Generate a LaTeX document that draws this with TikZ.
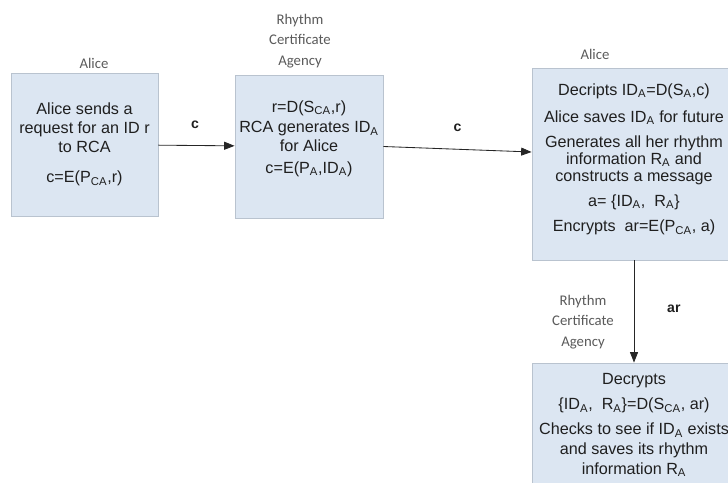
\documentclass[tikz,border=0pt]{standalone}
\usepackage{fontspec}
\setmainfont{Liberation Sans}
\newfontfamily\lblfont{Carlito}
\usetikzlibrary{arrows.meta,shadows}
\definecolor{boxfill}{HTML}{DCE6F2}
\definecolor{boxline}{HTML}{B9C3CF}
\definecolor{lbl}{HTML}{5A5A5A}
\definecolor{txt}{HTML}{1F1F1F}

\begin{document}
\begin{tikzpicture}[x=0.025cm,y=-0.025cm,
  stage/.style={draw=boxline,fill=boxfill,line width=0.6pt,align=center,text=txt,inner sep=0pt,
    font=\fontsize{11.5}{13.5}\selectfont,
    drop shadow={shadow xshift=0.7pt,shadow yshift=-0.7pt,opacity=0.3}},
  who/.style={align=center,text=lbl,font=\lblfont\fontsize{10.5}{14.8}\selectfont},
  msg/.style={font=\bfseries\fontsize{10}{11}\selectfont,text=txt},
  flow/.style={-{Triangle[length=2.6mm,width=2mm]},line width=0.6pt,draw=black!85}]
\useasboundingbox (0,0) rectangle (728,482);
\clip (0,0) rectangle (728,482);
% boxes
\node[stage,minimum width=3.675cm,minimum height=3.575cm] (ask) at (84.5,144.5)
  {Alice sends a\\request for an ID r\\to RCA\\[8pt]c=E(P\textsubscript{CA},r)};
\node[stage,minimum width=3.7cm,minimum height=3.575cm] (gen) at (309,146.5)
  {r=D(S\textsubscript{CA},r)\\[1pt]RCA generates ID\textsubscript{A}\\for Alice\\[2pt]c=E(P\textsubscript{A},ID\textsubscript{A})\\\mbox{}};
\node[stage,minimum width=5.1cm,minimum height=4.8cm,font=\fontsize{11.5}{12}\selectfont] (keep) at (634,164)
  {Decripts ID\textsubscript{A}=D(S\textsubscript{A},c)\\[7pt]Alice saves ID\textsubscript{A} for future\\[6pt]Generates all her rhythm\\information R\textsubscript{A} and\\constructs a message\\[6pt]a= \{ID\textsubscript{A},\ \ R\textsubscript{A}\}\\[6pt]Encrypts\ \ ar=E(P\textsubscript{CA}, a)\\[-3pt]\mbox{}};
\node[stage,minimum width=5.1cm,minimum height=3.1cm,font=\fontsize{11.5}{14}\selectfont] (check) at (634,425)
  {Decrypts\\[4pt]\{ID\textsubscript{A},\ \ R\textsubscript{A}\}=D(S\textsubscript{CA}, ar)\\[4pt]Checks to see if ID\textsubscript{A} exists\\and saves its rhythm\\information R\textsubscript{A}};
% labels
\node[who] (lbAsk) at (94,63) {Alice};
\node[who] (lbGen) at (300,41) {Rhythm\\Certificate\\Agency};
\node[who] (lbKeep) at (595,54) {Alice};
\node[who] (lbCheck) at (583,322) {Rhythm\\Certificate\\Agency};
% messages
\draw[flow] (ask) -- (gen) node[msg,pos=0.48,above=8pt] (m1) {c};
\draw[flow] (gen.east) -- ([yshift=3mm]keep.west) node[msg,midway,above=9pt] (m2) {c};
\draw[flow] (keep) -- (check) node[msg,pos=0.47,right=20pt] (m3) {ar};
\end{tikzpicture}
\end{document}
